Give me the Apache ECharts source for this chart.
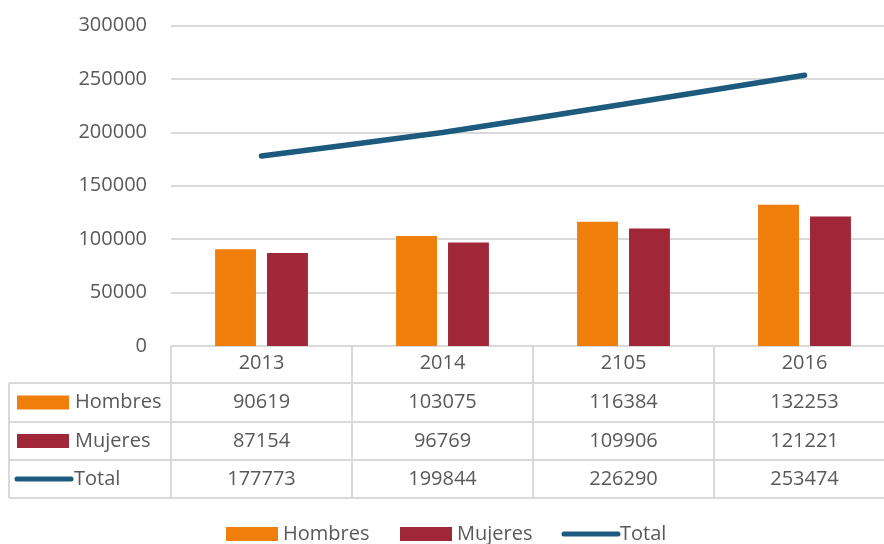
<!DOCTYPE html>
<html>
<head>
<meta charset="utf-8">
<script src="https://cdn.jsdelivr.net/npm/echarts@6/dist/echarts.min.js"></script>
<style>
  html, body { margin: 0; padding: 0; background: #fff; }
  #chart { width: 884px; height: 544px; }
</style>
</head>
<body>
<div id="chart"></div>
<script>
// Población por sexo y año
const years = ['2013', '2014', '2105', '2016'];
const hombres = [90619, 103075, 116384, 132253];
const mujeres = [87154, 96769, 109906, 121221];
const total = [177773, 199844, 226290, 253474];
const seriesNames = ['Hombres', 'Mujeres', 'Total'];

const FONT = '"Open Sans", "Liberation Sans", sans-serif';
const TEXT = '#595959';
const RULE = '#d9d9d9';
const COLORS = ['#ef7f0a', '#a02738', '#1c5a7e'];
const FS = 20;

const chart = echarts.init(document.getElementById('chart'), null, { renderer: 'canvas' });

chart.setOption({
  animation: false,
  backgroundColor: '#fff',
  textStyle: { fontFamily: FONT },
  grid: {
    left: 171, top: 25.5, right: -11, bottom: 198,
    containLabel: false, outerBoundsMode: 'none'
  },
  xAxis: {
    type: 'category',
    data: years,
    axisLine: { show: true, lineStyle: { color: RULE, width: 2 } },
    axisTick: { show: false },
    axisLabel: { color: TEXT, fontSize: FS, fontFamily: FONT, margin: 7 }
  },
  yAxis: {
    type: 'value',
    min: 0,
    max: 300000,
    interval: 50000,
    axisLine: { show: false },
    axisTick: { show: false },
    axisLabel: {
      color: TEXT, fontSize: FS, fontFamily: FONT, margin: 24,
      formatter: v => String(v)
    },
    splitLine: { lineStyle: { color: RULE, width: 2 } }
  },
  series: [
    {
      name: seriesNames[0], type: 'bar', data: hombres,
      barWidth: '22.6%', barGap: '27%',
      itemStyle: { color: COLORS[0] }
    },
    {
      name: seriesNames[1], type: 'bar', data: mujeres,
      barWidth: '22.6%', barGap: '27%',
      itemStyle: { color: COLORS[1] }
    },
    {
      name: seriesNames[2], type: 'line', data: total,
      symbol: 'none', smooth: 0.12,
      lineStyle: { color: COLORS[2], width: 5.5, cap: 'round' },
      itemStyle: { color: COLORS[2] }
    }
  ]
});

// Series key: coloured swatch (bars) or short stroke (line) followed by the name
function keyElements(r, x, midY, textX) {
  const out = [];
  if (r < 2) {
    out.push({
      type: 'rect', silent: true,
      shape: { x: x, y: midY - 7, width: 52, height: 14 },
      style: { fill: COLORS[r] }
    });
  } else {
    out.push({
      type: 'line', silent: true,
      shape: { x1: x, y1: midY, x2: x + 54, y2: midY },
      style: { stroke: COLORS[r], lineWidth: 5, lineCap: 'round' }
    });
  }
  out.push({
    type: 'text', silent: true,
    style: {
      x: textX, y: midY, text: seriesNames[r],
      fill: TEXT, font: FS + 'px ' + FONT,
      align: 'left', verticalAlign: 'middle'
    }
  });
  return out;
}

// Data table under the plot, aligned to the category bands
function buildTable() {
  const centers = years.map((_, i) => chart.convertToPixel({ xAxisIndex: 0 }, i));
  const band = centers[1] - centers[0];
  const bounds = centers.map(c => c - band / 2);
  bounds.push(centers[centers.length - 1] + band / 2);
  const axisY = chart.convertToPixel({ yAxisIndex: 0 }, 0);
  const leftX = 9;
  const rightX = bounds[bounds.length - 1];
  const rowLines = [383, 422, 460, 498];
  const rows = [hombres, mujeres, total];

  const els = [];
  const line = (x1, y1, x2, y2) => els.push({
    type: 'line', silent: true,
    shape: { x1, y1, x2, y2 },
    style: { stroke: RULE, lineWidth: 2 }
  });

  rowLines.forEach(y => line(leftX, y, rightX, y));
  line(leftX, rowLines[0], leftX, rowLines[3]);
  bounds.forEach(x => line(x, axisY, x, rowLines[3]));

  rows.forEach((vals, r) => {
    const midY = (rowLines[r] + rowLines[r + 1]) / 2;
    vals.forEach((v, i) => els.push({
      type: 'text', silent: true,
      style: {
        x: centers[i], y: midY, text: String(v),
        fill: TEXT, font: FS + 'px ' + FONT,
        align: 'center', verticalAlign: 'middle'
      }
    }));
    els.push(...keyElements(r, r < 2 ? 17 : 17, midY, r < 2 ? 75 : 74));
  });

  // Legend row at the bottom
  const legendY = 534;
  els.push(...keyElements(0, 226, legendY, 283));
  els.push(...keyElements(1, 400, legendY, 457));
  els.push(...keyElements(2, 564, legendY, 620));

  chart.setOption({ graphic: { elements: els } });
}
buildTable();
</script>
</body>
</html>
